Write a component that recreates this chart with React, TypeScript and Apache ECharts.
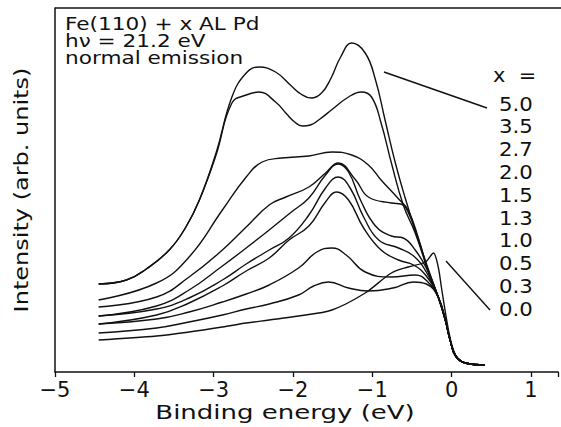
import React, { useEffect, useRef } from "react";
import * as echarts from "echarts";

// Binding energy (eV) vs intensity (arb. units)
const xTicks = [-5, -4, -3, -2, -1, 0, 1];
const coverages = ["5.0", "3.5", "2.7", "2.0", "1.5", "1.3", "1.0", "0.5", "0.3", "0.0"];
const headerLines = ["Fe(110) + x AL Pd", "hν = 21.2 eV", "normal emission"];

// common Fermi-edge tail shared by all spectra
const tail = [[-0.17, 75], [-0.08, 52], [-0.02, 32], [0.05, 16], [0.17, 9], [0.42, 7]];

const c50 = [[-4.45, 88], [-4.1, 92], [-3.85, 103], [-3.56, 122], [-3.35, 145], [-3.18, 172], [-2.97, 219], [-2.77, 275], [-2.59, 299], [-2.43, 305], [-2.22, 300], [-2.02, 286], [-1.9, 278], [-1.77, 274], [-1.64, 279], [-1.52, 294], [-1.4, 315], [-1.26, 329], [-1.09, 319], [-0.96, 292], [-0.84, 252], [-0.71, 209], [-0.59, 175], [-0.46, 142], [-0.3, 104]];
const c35 = [[-4.45, 88], [-4.1, 92], [-3.85, 103], [-3.56, 122], [-3.35, 145], [-3.18, 172], [-2.97, 217], [-2.77, 269], [-2.59, 277], [-2.43, 280], [-2.22, 270], [-2.08, 258], [-1.98, 250], [-1.88, 246], [-1.78, 247], [-1.66, 253], [-1.5, 263], [-1.3, 275], [-1.14, 280], [-1.01, 275], [-0.89, 249], [-0.76, 209], [-0.61, 167], [-0.46, 139], [-0.3, 102]];
const c27 = [[-4.45, 72], [-3.72, 89], [-3.31, 115], [-2.89, 162], [-2.59, 195], [-2.39, 210], [-2.14, 214], [-1.8, 216], [-1.51, 220], [-1.26, 217], [-1.05, 207], [-0.89, 192], [-0.68, 174], [-0.55, 162], [-0.42, 134], [-0.3, 102]];
const c20 = [[-4.45, 65], [-3.72, 75], [-3.31, 95], [-2.89, 122], [-2.59, 145], [-2.3, 167], [-2.09, 175], [-1.8, 185], [-1.59, 199], [-1.43, 209], [-1.21, 192], [-1.05, 175], [-0.76, 169], [-0.64, 168], [-0.55, 160], [-0.42, 132], [-0.3, 102]];
const c15 = [[-4.45, 56], [-3.72, 66], [-3.31, 82], [-2.89, 106], [-2.59, 124], [-2.3, 142], [-2.02, 160], [-1.8, 174], [-1.59, 197], [-1.43, 208], [-1.3, 200], [-1.15, 172], [-0.96, 146], [-0.76, 136], [-0.61, 134], [-0.46, 122], [-0.32, 104]];
const c13 = [[-4.45, 56], [-3.72, 63], [-3.31, 74], [-2.89, 92], [-2.59, 108], [-2.3, 122], [-2.05, 134], [-1.8, 157], [-1.59, 184], [-1.43, 195], [-1.28, 184], [-1.11, 155], [-0.92, 132], [-0.67, 124], [-0.48, 116], [-0.32, 100]];
const c10 = [[-4.45, 48], [-3.72, 57], [-3.31, 69], [-2.89, 86], [-2.59, 101], [-2.3, 114], [-2.05, 132], [-1.8, 146], [-1.59, 170], [-1.45, 180], [-1.3, 172], [-1.11, 144], [-0.89, 122], [-0.67, 112], [-0.48, 107], [-0.32, 96]];
const c05 = [[-4.45, 48], [-3.72, 53], [-3.31, 60], [-2.89, 70], [-2.59, 78], [-2.3, 87], [-1.93, 104], [-1.7, 120], [-1.51, 124], [-1.33, 117], [-1.09, 100], [-0.76, 95], [-0.46, 97], [-0.3, 90]];
const c03 = [[-4.45, 39], [-3.72, 44], [-3.31, 50], [-2.89, 57], [-2.59, 63], [-2.3, 68], [-1.93, 77], [-1.74, 86], [-1.55, 90], [-1.3, 84], [-1.05, 81], [-0.74, 84], [-0.48, 90], [-0.32, 88]];
const c00 = [[-4.45, 32], [-3.72, 36], [-3.31, 40], [-2.89, 45], [-2.59, 49], [-2.3, 52], [-1.93, 56], [-1.51, 62], [-1.09, 79], [-0.76, 99], [-0.55, 105], [-0.33, 110], [-0.23, 119], [-0.17, 105], [-0.13, 85], [-0.08, 60], [-0.02, 34], [0.05, 17], [0.17, 9], [0.42, 7]];

const spectra = [c50, c35, c27, c20, c15, c13, c10, c05, c03];

const FONT = "'DejaVu Sans', sans-serif";

export default function App() {
  const ref = useRef<HTMLDivElement>(null);
  useEffect(() => {
    if (!ref.current) return;
    const chart = echarts.init(ref.current, undefined, { renderer: "svg" });
    const lineStyle = { color: "#111", width: 1.4 };
    const series: any[] = spectra.map((c, i) => ({
      type: "line",
      name: coverages[i],
      data: [...c, ...tail],
      showSymbol: false,
      smooth: 0.45,
      lineStyle,
    }));
    series.push({
      type: "line",
      name: coverages[9],
      data: c00,
      showSymbol: false,
      smooth: 0.3,
      lineStyle,
    });

    const labelTop = 104;
    const labelStep = 22.8;
    const txt = (text: string, x: number, y: number, size: number, sx: number, extra: any = {}) => ({
      type: "text",
      x,
      y,
      scaleX: sx,
      ...extra,
      style: { text, font: `${size}px ${FONT}`, fill: "#111", verticalAlign: "middle", ...(extra.style || {}) },
    });
    const graphic: any[] = [
      { type: "line", shape: { x1: 55, y1: 8, x2: 561, y2: 8 }, style: { stroke: "#111", lineWidth: 1.5 } },
      ...headerLines.map((t, i) => txt(t, 65, 24 + i * 17, 18, 1.2)),
      txt("x  =", 493, 75, 19, 1.1),
      ...coverages.map((t, i) => txt(t, 499, labelTop + i * labelStep, 19, 1.12)),
      { type: "line", shape: { x1: 384, y1: 72, x2: 487, y2: 108 }, style: { stroke: "#111", lineWidth: 1.4 } },
      { type: "line", shape: { x1: 446, y1: 261, x2: 490, y2: 310 }, style: { stroke: "#111", lineWidth: 1.4 } },
      txt("Binding energy (eV)", 285, 412, 20, 1.3, { style: { align: "center" } }),
      txt("Intensity (arb. units)", 21, 190, 20, 1.2, { rotation: Math.PI / 2, style: { align: "center" } }),
    ];

    chart.setOption({
      animation: false,
      backgroundColor: "#fff",
      grid: { left: 55, top: 8, right: 0, bottom: 55 },
      xAxis: {
        type: "value",
        min: -5,
        max: 1.34,
        interval: 1,
        axisLine: { show: true, onZero: false, lineStyle: { color: "#111", width: 1.5 } },
        axisTick: { show: true, inside: false, length: 5, lineStyle: { color: "#111", width: 1.3 } },
        axisLabel: {
          color: "#111",
          fontSize: 21,
          fontFamily: FONT,
          margin: 7,
          showMaxLabel: true,
          formatter: (v: number) => (xTicks.includes(v) ? String(v).replace("-", "\u2212") : ""),
        },
        splitLine: { show: false },
      },
      yAxis: {
        type: "value",
        min: 0,
        max: 364,
        axisLine: { show: true, onZero: false, lineStyle: { color: "#111", width: 1.5 } },
        axisTick: { show: false },
        axisLabel: { show: false },
        splitLine: { show: false },
      },
      series,
      graphic,
    });
    return () => chart.dispose();
  }, []);
  return <div ref={ref} style={{ width: 561, height: 427, position: "absolute", left: 0, top: 0 }} />;
}
